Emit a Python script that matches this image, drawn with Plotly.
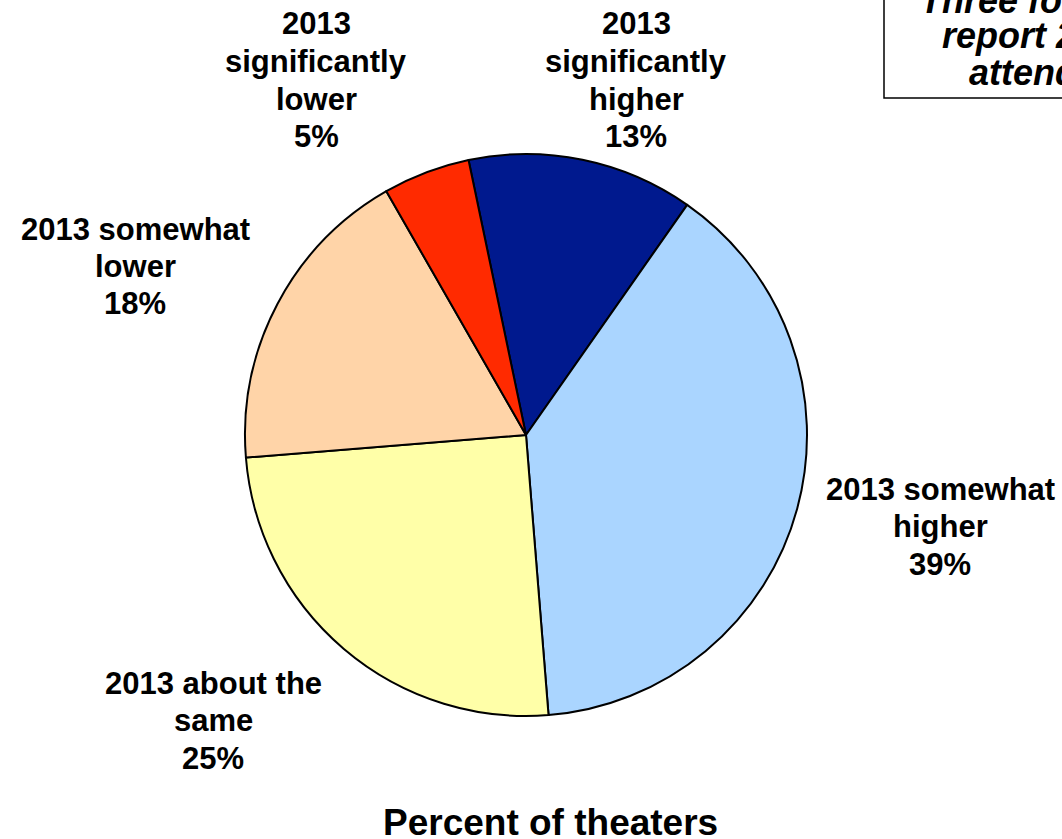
import plotly.graph_objects as go

# Share of theaters by 2013 attendance change (clockwise from the top)
categories = [
    "2013 significantly higher",
    "2013 somewhat higher",
    "2013 about the same",
    "2013 somewhat lower",
    "2013 significantly lower",
]
values = [13, 39, 25, 18, 5]
colors = ["#00198E", "#AAD5FF", "#FFFFA8", "#FFD4A8", "#FF2A00"]

# Multi-line label wording per slice
label_lines = [
    ["2013", "significantly", "higher"],
    ["2013 somewhat", "higher"],
    ["2013 about the", "same"],
    ["2013 somewhat", "lower"],
    ["2013", "significantly", "lower"],
]

W, H = 1062, 839
cx, cy, r = 526, 435, 281

# Label placement in pixels: (centre x, first line y), line pitch
label_pos = [(636, 24), (940, 489), (213, 683), (135, 229), (316, 24)]
LINE = 37.5

FONT = "Liberation Sans, Arial, sans-serif"

fig = go.Figure(
    go.Pie(
        labels=categories,
        values=values,
        sort=False,
        direction="clockwise",
        rotation=-11.8,
        marker=dict(colors=colors, line=dict(color="black", width=2)),
        textinfo="none",
        hoverinfo="label+percent",
        showlegend=False,
        domain=dict(
            x=[(cx - r) / W, (cx + r) / W],
            y=[(H - cy - r) / H, (H - cy + r) / H],
        ),
    )
)


def px_note(text, x, y, size, anchor="center"):
    return dict(
        text=text, x=x / W, y=1 - y / H, xref="paper", yref="paper",
        xanchor=anchor, yanchor="middle", showarrow=False,
        font=dict(family=FONT, size=size, color="black"),
    )


annotations = []
total = sum(values)
for lines, v, (x, y0) in zip(label_lines, values, label_pos):
    pct = round(100 * v / total)
    for i, line in enumerate(lines + [f"{pct}%"]):
        annotations.append(px_note(f"<b>{line}</b>", x, y0 + i * LINE, 31))

annotations.append(px_note("<b>Percent of theaters</b>", 550, 822, 37))

# Callout box running off the top-right corner
box_lines = [("Three fourths", 918, 0), ("report 2013", 940, 36), ("attendance", 967, 72)]
for txt, x0, yc in box_lines:
    annotations.append(px_note(f"<b><i>{txt}</i></b>", x0, yc, 36, anchor="left"))

fig.add_shape(
    type="rect", xref="paper", yref="paper",
    x0=884 / W, x1=1.2, y0=1 - 98 / H, y1=1.1,
    line=dict(color="black", width=1.5), fillcolor="rgba(0,0,0,0)",
)

fig.update_layout(
    width=W, height=H,
    margin=dict(l=0, r=0, t=0, b=0),
    paper_bgcolor="white", plot_bgcolor="white",
    annotations=annotations,
)

fig.write_html("out.html")
